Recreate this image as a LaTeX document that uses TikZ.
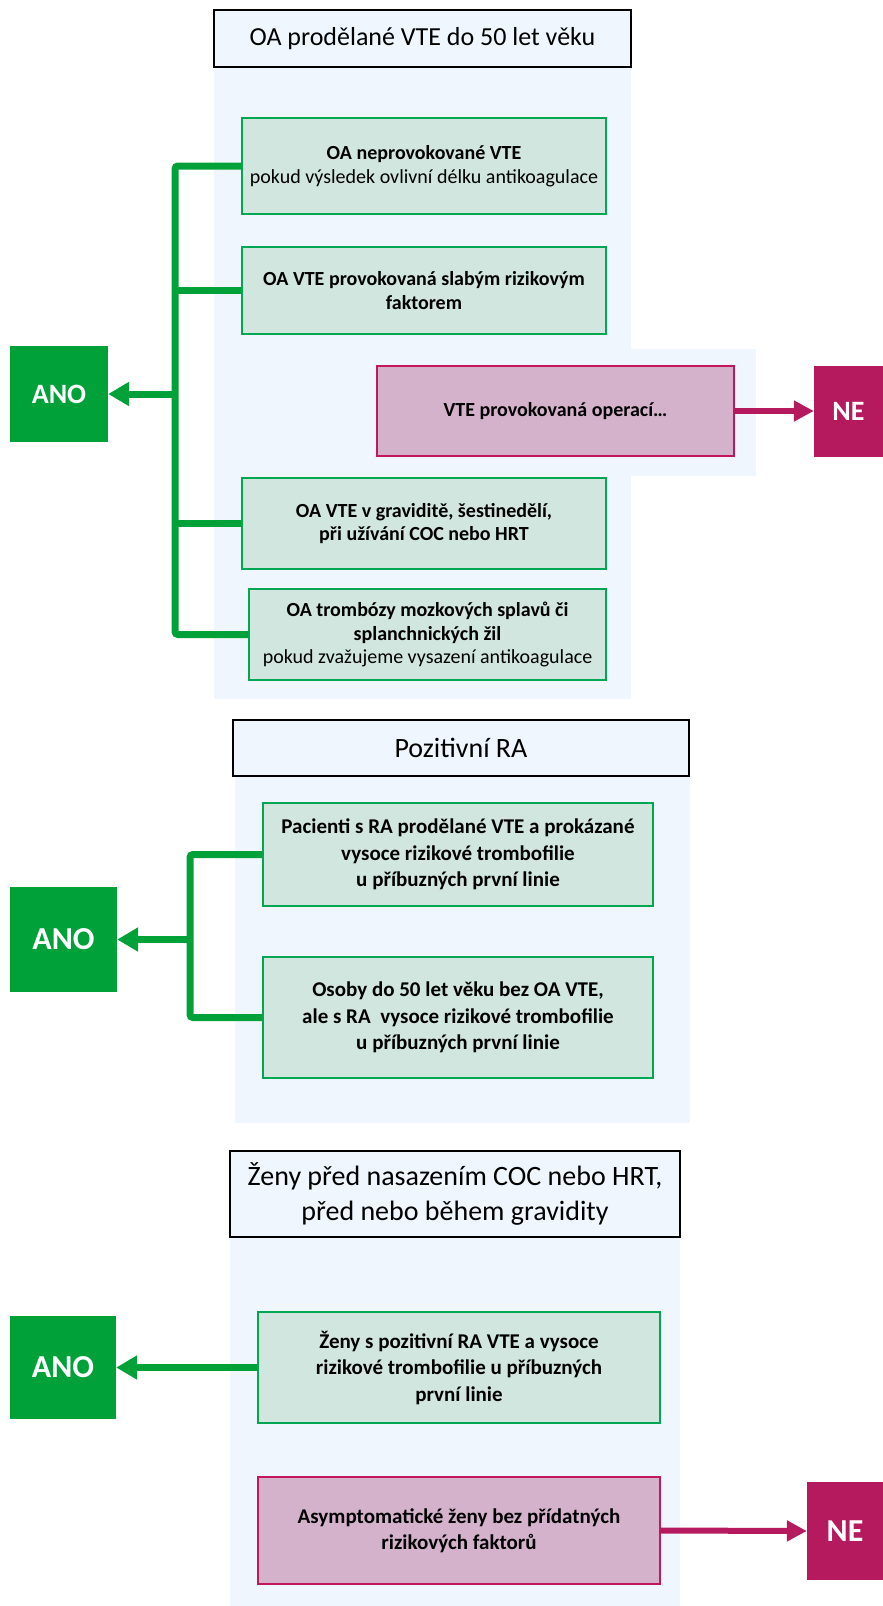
\documentclass[tikz,border=0pt]{standalone}
\usepackage{fontspec}
\setmainfont{Carlito}
\usetikzlibrary{arrows.meta}

\definecolor{anogreen}{RGB}{0,161,57}
\definecolor{boxgreen}{RGB}{208,230,222}
\definecolor{edgegreen}{RGB}{0,166,81}
\definecolor{nepink}{RGB}{181,25,94}
\definecolor{boxpink}{RGB}{213,178,204}
\definecolor{edgepink}{RGB}{192,24,90}
\definecolor{panelblue}{RGB}{239,246,253}

\begin{document}
\begin{tikzpicture}[x=1pt,y=-1pt,
    titlebox/.style={draw=black, line width=2.5pt, fill=panelblue, align=center,
        inner sep=0pt, font=\fontsize{28}{35}\selectfont},
    yesbox/.style={draw=edgegreen, line width=2pt, fill=boxgreen, align=center,
        inner sep=0pt, font=\bfseries\fontsize{20}{23.5}\selectfont},
    nobox/.style={draw=edgepink, line width=2pt, fill=boxpink, align=center,
        inner sep=0pt, font=\bfseries\fontsize{20}{23.5}\selectfont},
    anobox/.style={fill=anogreen, text=white, inner sep=0pt,
        font=\bfseries\fontsize{32}{34}\selectfont},
    nebox/.style={fill=nepink, text=white, inner sep=0pt,
        font=\bfseries\fontsize{32}{34}\selectfont},
    bigger/.style={font=\bfseries\fontsize{21}{26.5}\selectfont},
    busline/.style={draw=anogreen, line width=7pt, rounded corners=3pt},
    yesarrow/.style={draw=anogreen, line width=7pt, -{Triangle[length=21pt,width=23pt]}},
    noarrow/.style={draw=nepink, line width=6pt, -{Triangle[length=20pt,width=20pt]}}
]
\useasboundingbox (0,0) rectangle (883,1606);

% panels
\fill[panelblue] (214,67) rectangle (631,699);
\fill[panelblue] (631,349) rectangle (756,476);
\fill[panelblue] (235,776) rectangle (690,1123);
\fill[panelblue] (230,1237) rectangle (680,1606);

% OA VTE
\node[titlebox, font=\fontsize{26}{30}\selectfont, minimum width=417, minimum height=57] (title1) at (422.5,38.5)
    {OA prodělané VTE do 50 let věku};
\node[yesbox, minimum width=364, minimum height=96] (b1) at (424,166)
    {OA neprovokované VTE\\{\mdseries pokud výsledek ovlivní délku antikoagulace}};
\node[yesbox, minimum width=364, minimum height=87] (b2) at (424,290.5)
    {OA VTE provokovaná slabým rizikovým\\faktorem};
\node[nobox, minimum width=357, minimum height=90] (op) at (555.5,411)
    {VTE provokovaná operací…};
\node[yesbox, minimum width=364, minimum height=91] (b3) at (424,523.5)
    {OA VTE v graviditě, šestinedělí,\\při užívání COC nebo HRT};
\node[yesbox, minimum width=357, minimum height=91] (b4) at (427.5,634.5)
    {OA trombózy mozkových splavů či\\splanchnických žil\\{\mdseries pokud zvažujeme vysazení antikoagulace}};
\node[anobox, font=\bfseries\fontsize{28}{30}\selectfont, minimum width=98, minimum height=96] (ano1) at (59,394) {ANO};
\node[nebox, font=\bfseries\fontsize{28}{30}\selectfont, minimum width=69, minimum height=91] (ne1) at (848.5,411.5) {NE};

\coordinate (bus1) at (175,166);
\coordinate (bus4) at (175,634.5);
\draw[busline] (b1.west) -- (bus1) -- (bus4) -- (b4.west);
\draw[busline] (b2.west) -- (b2.west -| bus1);
\draw[busline] (b3.west) -- (b3.west -| bus1);
\draw[yesarrow] (ano1.east -| bus1) -- (ano1.east);
\draw[noarrow] (op.east) -- (op.east -| ne1.west);

% RA
\node[titlebox, minimum width=456, minimum height=56] (title2) at (461,748)
    {Pozitivní RA};
\node[yesbox, bigger, minimum width=390, minimum height=103] (ra1) at (458,854.5)
    {Pacienti s RA prodělané VTE a prokázané\\vysoce rizikové trombofilie\\u příbuzných první linie};
\node[yesbox, bigger, minimum width=390, minimum height=121] (ra2) at (458,1017.5)
    {Osoby do 50 let věku bez OA VTE,\\ale s RA~ vysoce rizikové trombofilie\\u příbuzných první linie};
\node[anobox, minimum width=107, minimum height=105] (ano2) at (63.5,939.5) {ANO};

\coordinate (bus5) at (190,854.5);
\coordinate (bus6) at (190,1017.5);
\draw[busline] (ra1.west) -- (bus5) -- (bus6) -- (ra2.west);
\draw[yesarrow] (ano2.east -| bus5) -- (ano2.east);

% COC / HRT
\node[titlebox, minimum width=450, minimum height=86] (title3) at (455,1194)
    {Ženy před nasazením COC nebo HRT,\\před nebo během gravidity};
\node[yesbox, bigger, minimum width=402, minimum height=111] (zc) at (459,1367.5)
    {Ženy s pozitivní RA VTE a vysoce\\rizikové trombofilie u příbuzných\\první linie};
\node[nobox, bigger, minimum width=402, minimum height=107] (zd) at (459,1530.5)
    {Asymptomatické ženy bez přídatných\\rizikových faktorů};
\node[anobox, minimum width=106, minimum height=103] (ano3) at (63,1367.5) {ANO};
\node[nebox, minimum width=76, minimum height=98] (ne3) at (845,1531) {NE};

\draw[yesarrow] (zc.west) -- (ano3.east);
\draw[noarrow] (zd.east) -- (ne3.west);
\end{tikzpicture}
\end{document}
